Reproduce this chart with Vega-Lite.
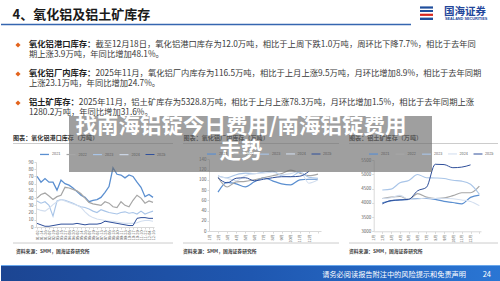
{
  "$schema": "https://vega.github.io/schema/vega-lite/v6.json",
  "width": 500,
  "height": 281,
  "autosize": {"type": "fit", "contains": "padding"},
  "padding": 0,
  "background": "white",
  "config": {
    "view": {"stroke": null},
    "font": "Noto Sans CJK SC",
    "text": {"font": "Noto Sans CJK SC"},
    "axis": {"labelFont": "Noto Sans CJK SC", "grid": false, "domainColor": "#d9d9d9", "tickColor": "#d9d9d9", "tickSize": 2, "labelColor": "#595959", "labelFontSize": 4.5, "labelPadding": 1},
    "legend": {"labelFont": "Noto Sans CJK SC"}
  },
  "resolve": {
    "scale": {"x": "independent", "y": "independent", "color": "independent", "strokeWidth": "independent"},
    "axis": {"x": "independent", "y": "independent"},
    "legend": {"color": "independent", "strokeWidth": "independent"}
  },
  "layer": [
    {
      "data": {"values": [{"t": "4、氧化铝及铝土矿库存"}]},
      "mark": {"type": "text", "align": "left", "baseline": "middle", "fontSize": 13, "fontWeight": "bold", "color": "#1a1a1a"},
      "encoding": {"text": {"field": "t"}, "x": {"value": 11.5}, "y": {"value": 15}}
    },
    {
      "data": {"values": [{}]},
      "mark": {"type": "rule", "color": "#3566b0", "strokeWidth": 1.5},
      "encoding": {"x": {"value": 0}, "x2": {"value": 410}, "y": {"value": 24.5}}
    },
    {
      "data": {"values": [{}]},
      "mark": {"type": "rule", "color": "#1f4e9c", "strokeWidth": 2.2},
      "encoding": {"x": {"value": 419}, "x2": {"value": 432}, "y": {"value": 7.5}}
    },
    {
      "data": {"values": [{}]},
      "mark": {"type": "rule", "color": "#1f4e9c", "strokeWidth": 2},
      "encoding": {"x": {"value": 419}, "x2": {"value": 432}, "y": {"value": 11}}
    },
    {
      "data": {"values": [{}]},
      "mark": {"type": "rule", "color": "#d7261e", "strokeWidth": 2.2},
      "encoding": {"x": {"value": 419}, "x2": {"value": 432}, "y": {"value": 14.8}}
    },
    {
      "data": {"values": [{}]},
      "mark": {"type": "rule", "color": "#1f4e9c", "strokeWidth": 2.4},
      "encoding": {"x": {"value": 419}, "x2": {"value": 432}, "y": {"value": 18.8}}
    },
    {
      "data": {"values": [{"t": "国海证券"}]},
      "mark": {"type": "text", "align": "left", "baseline": "middle", "fontSize": 10.5, "fontWeight": "bold", "color": "#23469a"},
      "encoding": {"text": {"field": "t"}, "x": {"value": 443}, "y": {"value": 12}}
    },
    {
      "data": {"values": [{"t": "SEALAND SECURITIES"}]},
      "mark": {"type": "text", "align": "left", "baseline": "middle", "fontSize": 3.8, "fontWeight": "bold", "color": "#23469a", "font": "Liberation Sans"},
      "encoding": {"text": {"field": "t"}, "x": {"value": 444}, "y": {"value": 19}}
    },
    {
      "data": {"values": [
        {"row": 0, "label": "氧化铝港口库存：", "t": "截至12月18日，氧化铝港口库存为12.0万吨，相比于上周下跌1.0万吨，周环比下降7.7%，相比于去年同"},
        {"row": 1, "t": "期上涨3.9万吨，年同比增加48.1%。"},
        {"row": 3, "label": "氧化铝厂内库存：", "t": "2025年11月，氧化铝厂内库存为116.5万吨，相比于上月上涨9.5万吨，月环比增加8.9%，相比于去年同期"},
        {"row": 4, "t": "上涨23.1万吨，年同比增加24.7%。"},
        {"row": 6, "label": "铝土矿库存：", "t": "2025年11月，铝土矿库存为5328.8万吨，相比于上月上涨78.3万吨，月环比增加1.5%，相比于去年同期上涨"},
        {"row": 7, "t": "1280.2万吨，年同比增加31.6%。"}
      ]},
      "transform": [{"calculate": "datum.label ? length(datum.label) : 0", "as": "indent"}],
      "encoding": {
        "y": {"field": "row", "type": "quantitative", "scale": {"domain": [0, 7], "range": [45, 112.7], "nice": false, "zero": false}, "axis": null}
      },
      "layer": [
        {
          "mark": {"type": "text", "align": "left", "baseline": "middle", "fontSize": 8.3, "color": "#3a3a3a"},
          "encoding": {"text": {"field": "t"}, "x": {"field": "indent", "type": "quantitative", "scale": {"domain": [0, 8], "range": [28, 94.4], "nice": false, "zero": false}, "axis": null}}
        },
        {
          "transform": [{"filter": "datum.label"}],
          "mark": {"type": "text", "align": "left", "baseline": "middle", "fontSize": 8.3, "fontWeight": "bold", "color": "#1f1f1f"},
          "encoding": {"text": {"field": "label"}, "x": {"value": 28}}
        },
        {
          "transform": [{"filter": "datum.label"}],
          "mark": {"type": "point", "shape": "diamond", "filled": true, "size": 26, "color": "#e3631c", "opacity": 1},
          "encoding": {"x": {"value": 17}}
        }
      ]
    },
    {
      "data": {"values": [{"t": "图表：氧化铝港口库存（万吨）"}]},
      "mark": {"type": "text", "align": "left", "baseline": "middle", "fontSize": 6.1, "fontWeight": "bold", "color": "#333333"},
      "encoding": {"text": {"field": "t"}, "x": {"value": 12}, "y": {"value": 138}}
    },
    {
      "data": {"values": [{"t": "图表：氧化铝厂内库存（万吨）"}]},
      "mark": {"type": "text", "align": "left", "baseline": "middle", "fontSize": 6.1, "fontWeight": "bold", "color": "#333333"},
      "encoding": {"text": {"field": "t"}, "x": {"value": 182.5}, "y": {"value": 138}}
    },
    {
      "data": {"values": [{"t": "图表：铝土矿库存（万吨）"}]},
      "mark": {"type": "text", "align": "left", "baseline": "middle", "fontSize": 6.1, "fontWeight": "bold", "color": "#333333"},
      "encoding": {"text": {"field": "t"}, "x": {"value": 348}, "y": {"value": 138}}
    },
    {
      "data": {"values": [{}]},
      "mark": {"type": "rule", "color": "#bfbfbf", "strokeWidth": 0.8},
      "encoding": {"x": {"value": 12}, "x2": {"value": 172}, "y": {"value": 143.5}}
    },
    {
      "data": {"values": [{}]},
      "mark": {"type": "rule", "color": "#bfbfbf", "strokeWidth": 0.8},
      "encoding": {"x": {"value": 182}, "x2": {"value": 338}, "y": {"value": 143.5}}
    },
    {
      "data": {"values": [{}]},
      "mark": {"type": "rule", "color": "#bfbfbf", "strokeWidth": 0.8},
      "encoding": {"x": {"value": 348}, "x2": {"value": 497}, "y": {"value": 143.5}}
    },
    {
      "data": {"values": [{}]},
      "mark": {"type": "rule", "color": "#bfbfbf", "strokeWidth": 0.8},
      "encoding": {"x": {"value": 12}, "x2": {"value": 172}, "y": {"value": 243}}
    },
    {
      "data": {"values": [{}]},
      "mark": {"type": "rule", "color": "#bfbfbf", "strokeWidth": 0.8},
      "encoding": {"x": {"value": 182}, "x2": {"value": 338}, "y": {"value": 243}}
    },
    {
      "data": {"values": [{}]},
      "mark": {"type": "rule", "color": "#bfbfbf", "strokeWidth": 0.8},
      "encoding": {"x": {"value": 348}, "x2": {"value": 497}, "y": {"value": 243}}
    },
    {
      "data": {"values": [{"t": "资料来源：SMM，国海证券研究所"}]},
      "mark": {"type": "text", "align": "left", "baseline": "middle", "fontSize": 4.8, "fontWeight": "bold", "color": "#404040"},
      "encoding": {"text": {"field": "t"}, "x": {"value": 15}, "y": {"value": 252}}
    },
    {
      "data": {"values": [{"t": "资料来源：SMM，国海证券研究所"}]},
      "mark": {"type": "text", "align": "left", "baseline": "middle", "fontSize": 4.8, "fontWeight": "bold", "color": "#404040"},
      "encoding": {"text": {"field": "t"}, "x": {"value": 182}, "y": {"value": 252}}
    },
    {
      "data": {"values": [{"t": "资料来源：SMM，国海证券研究所"}]},
      "mark": {"type": "text", "align": "left", "baseline": "middle", "fontSize": 4.8, "fontWeight": "bold", "color": "#404040"},
      "encoding": {"text": {"field": "t"}, "x": {"value": 348}, "y": {"value": 252}}
    },
    {
      "data": {"values": [
        {"d":"01-02","yr":"2021","v":70},{"d":"01-14","yr":"2021","v":62},{"d":"01-26","yr":"2021","v":67},{"d":"02-07","yr":"2021","v":62},{"d":"02-19","yr":"2021","v":62},{"d":"03-03","yr":"2021","v":51},{"d":"03-15","yr":"2021","v":65},{"d":"03-27","yr":"2021","v":60},{"d":"04-08","yr":"2021","v":58},{"d":"04-20","yr":"2021","v":54},{"d":"05-02","yr":"2021","v":49},{"d":"05-14","yr":"2021","v":44},{"d":"05-26","yr":"2021","v":41},{"d":"06-07","yr":"2021","v":35},{"d":"06-19","yr":"2021","v":37},{"d":"07-01","yr":"2021","v":38},{"d":"07-13","yr":"2021","v":41},{"d":"07-25","yr":"2021","v":48},{"d":"08-06","yr":"2021","v":56},{"d":"08-18","yr":"2021","v":82},{"d":"08-30","yr":"2021","v":73},{"d":"09-11","yr":"2021","v":72},{"d":"09-23","yr":"2021","v":68},{"d":"10-05","yr":"2021","v":72},{"d":"10-17","yr":"2021","v":70},{"d":"10-29","yr":"2021","v":62},{"d":"11-10","yr":"2021","v":55},{"d":"11-22","yr":"2021","v":42},{"d":"12-04","yr":"2021","v":45},{"d":"12-16","yr":"2021","v":41},
        {"d":"01-02","yr":"2022","v":40},{"d":"01-14","yr":"2022","v":45},{"d":"01-26","yr":"2022","v":47},{"d":"02-07","yr":"2022","v":43},{"d":"02-19","yr":"2022","v":38},{"d":"03-03","yr":"2022","v":42},{"d":"03-15","yr":"2022","v":44},{"d":"03-27","yr":"2022","v":55},{"d":"04-08","yr":"2022","v":54},{"d":"04-20","yr":"2022","v":52},{"d":"05-02","yr":"2022","v":50},{"d":"05-14","yr":"2022","v":46},{"d":"05-26","yr":"2022","v":40},{"d":"06-07","yr":"2022","v":34},{"d":"06-19","yr":"2022","v":32},{"d":"07-01","yr":"2022","v":31},{"d":"07-13","yr":"2022","v":30},{"d":"07-25","yr":"2022","v":35},{"d":"08-06","yr":"2022","v":33},{"d":"08-18","yr":"2022","v":28},{"d":"08-30","yr":"2022","v":27},{"d":"09-11","yr":"2022","v":35},{"d":"09-23","yr":"2022","v":30},{"d":"10-05","yr":"2022","v":28},{"d":"10-17","yr":"2022","v":37},{"d":"10-29","yr":"2022","v":44},{"d":"11-10","yr":"2022","v":40},{"d":"11-22","yr":"2022","v":33},{"d":"12-04","yr":"2022","v":36},{"d":"12-16","yr":"2022","v":34},
        {"d":"01-02","yr":"2023","v":36},{"d":"01-14","yr":"2023","v":33},{"d":"01-26","yr":"2023","v":35},{"d":"02-07","yr":"2023","v":30},{"d":"02-19","yr":"2023","v":15},{"d":"03-03","yr":"2023","v":36},{"d":"03-15","yr":"2023","v":38},{"d":"03-27","yr":"2023","v":37},{"d":"04-08","yr":"2023","v":35},{"d":"04-20","yr":"2023","v":33},{"d":"05-02","yr":"2023","v":30},{"d":"05-14","yr":"2023","v":28},{"d":"05-26","yr":"2023","v":27},{"d":"06-07","yr":"2023","v":25},{"d":"06-19","yr":"2023","v":22},{"d":"07-01","yr":"2023","v":20},{"d":"07-13","yr":"2023","v":24},{"d":"07-25","yr":"2023","v":22},{"d":"08-06","yr":"2023","v":20},{"d":"08-18","yr":"2023","v":19},{"d":"08-30","yr":"2023","v":18},{"d":"09-11","yr":"2023","v":20},{"d":"09-23","yr":"2023","v":21},{"d":"10-05","yr":"2023","v":19},{"d":"10-17","yr":"2023","v":20},{"d":"10-29","yr":"2023","v":18},{"d":"11-10","yr":"2023","v":22},{"d":"11-22","yr":"2023","v":18},{"d":"12-04","yr":"2023","v":20},{"d":"12-16","yr":"2023","v":22},
        {"d":"01-02","yr":"2024","v":25},{"d":"01-14","yr":"2024","v":23},{"d":"01-26","yr":"2024","v":22},{"d":"02-07","yr":"2024","v":26},{"d":"02-19","yr":"2024","v":31},{"d":"03-03","yr":"2024","v":35},{"d":"03-15","yr":"2024","v":38},{"d":"03-27","yr":"2024","v":36},{"d":"04-08","yr":"2024","v":34},{"d":"04-20","yr":"2024","v":32},{"d":"05-02","yr":"2024","v":30},{"d":"05-14","yr":"2024","v":27},{"d":"05-26","yr":"2024","v":21},{"d":"06-07","yr":"2024","v":16},{"d":"06-19","yr":"2024","v":13},{"d":"07-01","yr":"2024","v":11},{"d":"07-13","yr":"2024","v":10},{"d":"07-25","yr":"2024","v":9},{"d":"08-06","yr":"2024","v":8},{"d":"08-18","yr":"2024","v":8},{"d":"08-30","yr":"2024","v":7},{"d":"09-11","yr":"2024","v":6},{"d":"09-23","yr":"2024","v":5},{"d":"10-05","yr":"2024","v":5},{"d":"10-17","yr":"2024","v":5},{"d":"10-29","yr":"2024","v":6},{"d":"11-10","yr":"2024","v":8},{"d":"11-22","yr":"2024","v":9},{"d":"12-04","yr":"2024","v":9},{"d":"12-16","yr":"2024","v":8},
        {"d":"01-02","yr":"2025","v":5},{"d":"01-14","yr":"2025","v":3},{"d":"01-26","yr":"2025","v":1},{"d":"02-07","yr":"2025","v":1},{"d":"02-19","yr":"2025","v":2},{"d":"03-03","yr":"2025","v":3},{"d":"03-15","yr":"2025","v":4},{"d":"03-27","yr":"2025","v":4},{"d":"04-08","yr":"2025","v":4},{"d":"04-20","yr":"2025","v":4},{"d":"05-02","yr":"2025","v":5},{"d":"05-14","yr":"2025","v":4},{"d":"05-26","yr":"2025","v":3},{"d":"06-07","yr":"2025","v":4},{"d":"06-19","yr":"2025","v":4},{"d":"07-01","yr":"2025","v":4},{"d":"07-13","yr":"2025","v":5},{"d":"07-25","yr":"2025","v":8},{"d":"08-06","yr":"2025","v":7},{"d":"08-18","yr":"2025","v":6},{"d":"08-30","yr":"2025","v":5},{"d":"09-11","yr":"2025","v":4},{"d":"09-23","yr":"2025","v":3},{"d":"10-05","yr":"2025","v":2},{"d":"10-17","yr":"2025","v":2},{"d":"10-29","yr":"2025","v":12},{"d":"11-10","yr":"2025","v":13},{"d":"11-22","yr":"2025","v":13},{"d":"12-04","yr":"2025","v":12},{"d":"12-16","yr":"2025","v":12}
      ]},
      "mark": {"type": "line", "interpolate": "linear"},
      "encoding": {
        "x": {"field": "d", "type": "ordinal", "scale": {"type": "point", "range": [35, 153], "padding": 0.25, "domain": ["01-02","01-14","01-26","02-07","02-19","03-03","03-15","03-27","04-08","04-20","05-02","05-14","05-26","06-07","06-19","07-01","07-13","07-25","08-06","08-18","08-30","09-11","09-23","10-05","10-17","10-29","11-10","11-22","12-04","12-16"]}, "axis": {"orient": "bottom", "offset": -54, "title": null, "labelAngle": -90, "labelFontSize": 3.8, "labelOverlap": false, "labelPadding": 1}},
        "y": {"field": "v", "type": "quantitative", "scale": {"domain": [0, 90], "range": [227, 162], "nice": false}, "axis": {"orient": "left", "offset": -35, "title": null, "values": [0,10,20,30,40,50,60,70,80,90]}},
        "color": {"field": "yr", "type": "nominal", "scale": {"domain": ["2021","2022","2023","2024","2025"], "range": ["#5b8fd0","#a6a6a6","#a9c5e8","#d2deef","#2f4f9a"]}, "legend": {"orient": "none", "legendX": 38, "legendY": 148.5, "direction": "horizontal", "title": null, "symbolType": "stroke", "symbolSize": 80, "symbolStrokeWidth": 1.2, "labelFontSize": 3.8, "labelColor": "#595959", "labelOffset": 2, "columnPadding": 2.5, "padding": 0}},
        "strokeWidth": {"field": "yr", "type": "ordinal", "scale": {"domain": ["2021","2022","2023","2024","2025"], "range": [1.3,1,1,1,1.5]}, "legend": null}
      }
    },
    {
      "data": {"values": [
        {"m":"1月","yr":"2021","v":76},{"m":"2月","yr":"2021","v":95},{"m":"3月","yr":"2021","v":92},{"m":"4月","yr":"2021","v":86},{"m":"5月","yr":"2021","v":96},{"m":"6月","yr":"2021","v":104},{"m":"7月","yr":"2021","v":98},{"m":"8月","yr":"2021","v":92},{"m":"9月","yr":"2021","v":90},{"m":"10月","yr":"2021","v":100},{"m":"11月","yr":"2021","v":101},{"m":"12月","yr":"2021","v":101},
        {"m":"1月","yr":"2022","v":105},{"m":"2月","yr":"2022","v":86},{"m":"3月","yr":"2022","v":96},{"m":"4月","yr":"2022","v":97},{"m":"5月","yr":"2022","v":100},{"m":"6月","yr":"2022","v":104},{"m":"7月","yr":"2022","v":108},{"m":"8月","yr":"2022","v":112},{"m":"9月","yr":"2022","v":119},{"m":"10月","yr":"2022","v":113},{"m":"11月","yr":"2022","v":108},{"m":"12月","yr":"2022","v":111},
        {"m":"1月","yr":"2023","v":108},{"m":"2月","yr":"2023","v":104},{"m":"3月","yr":"2023","v":110},{"m":"4月","yr":"2023","v":113},{"m":"5月","yr":"2023","v":112},{"m":"6月","yr":"2023","v":115},{"m":"7月","yr":"2023","v":117},{"m":"8月","yr":"2023","v":108},{"m":"9月","yr":"2023","v":106},{"m":"10月","yr":"2023","v":115},{"m":"11月","yr":"2023","v":105},{"m":"12月","yr":"2023","v":103},
        {"m":"1月","yr":"2024","v":107},{"m":"2月","yr":"2024","v":103},{"m":"3月","yr":"2024","v":98},{"m":"4月","yr":"2024","v":108},{"m":"5月","yr":"2024","v":112},{"m":"6月","yr":"2024","v":113},{"m":"7月","yr":"2024","v":115},{"m":"8月","yr":"2024","v":110},{"m":"9月","yr":"2024","v":112},{"m":"10月","yr":"2024","v":117},{"m":"11月","yr":"2024","v":93.4},{"m":"12月","yr":"2024","v":100},
        {"m":"1月","yr":"2025","v":104},{"m":"2月","yr":"2025","v":94},{"m":"3月","yr":"2025","v":103},{"m":"4月","yr":"2025","v":104},{"m":"5月","yr":"2025","v":98},{"m":"6月","yr":"2025","v":101},{"m":"7月","yr":"2025","v":104},{"m":"8月","yr":"2025","v":106},{"m":"9月","yr":"2025","v":106},{"m":"10月","yr":"2025","v":107},{"m":"11月","yr":"2025","v":116.5}
      ]},
      "mark": {"type": "line", "interpolate": "monotone"},
      "encoding": {
        "x": {"field": "m", "type": "ordinal", "scale": {"type": "point", "range": [208, 320], "padding": 0.66, "align": 0.75, "domain": ["1月","2月","3月","4月","5月","6月","7月","8月","9月","10月","11月","12月"]}, "axis": {"orient": "bottom", "offset": -50, "title": null, "labelAngle": -90, "labelFontSize": 3.8, "labelOverlap": false, "labelPadding": 1, "labelOffset": -9}},
        "y": {"field": "v", "type": "quantitative", "scale": {"domain": [0, 140], "range": [231, 159.3], "nice": false}, "axis": {"orient": "left", "offset": -208, "title": null, "values": [0,20,40,60,80,100,120,140]}},
        "color": {"field": "yr", "type": "nominal", "scale": {"domain": ["2021","2022","2023","2024","2025"], "range": ["#5b8fd0","#a6a6a6","#a9c5e8","#d2deef","#2f4f9a"]}, "legend": {"orient": "none", "legendX": 205, "legendY": 148.5, "direction": "horizontal", "title": null, "symbolType": "stroke", "symbolSize": 80, "symbolStrokeWidth": 1.2, "labelFontSize": 3.8, "labelColor": "#595959", "labelOffset": 2, "columnPadding": 2.5, "padding": 0}},
        "strokeWidth": {"field": "yr", "type": "ordinal", "scale": {"domain": ["2021","2022","2023","2024","2025"], "range": [1.2,1,1,1,1.5]}, "legend": null}
      }
    },
    {
      "data": {"values": [
        {"m":"1月","yr":"2021","v":4000},{"m":"2月","yr":"2021","v":4070},{"m":"3月","yr":"2021","v":4100},{"m":"4月","yr":"2021","v":4120},{"m":"5月","yr":"2021","v":4150},{"m":"6月","yr":"2021","v":4150},{"m":"7月","yr":"2021","v":4120},{"m":"8月","yr":"2021","v":4050},{"m":"9月","yr":"2021","v":4010},{"m":"10月","yr":"2021","v":3960},{"m":"11月","yr":"2021","v":4190},{"m":"12月","yr":"2021","v":4270},
        {"m":"1月","yr":"2022","v":4150},{"m":"2月","yr":"2022","v":4200},{"m":"3月","yr":"2022","v":4220},{"m":"4月","yr":"2022","v":4120},{"m":"5月","yr":"2022","v":4320},{"m":"6月","yr":"2022","v":4200},{"m":"7月","yr":"2022","v":4150},{"m":"8月","yr":"2022","v":4170},{"m":"9月","yr":"2022","v":4250},{"m":"10月","yr":"2022","v":4350},{"m":"11月","yr":"2022","v":4350},{"m":"12月","yr":"2022","v":4580},
        {"m":"1月","yr":"2023","v":4450},{"m":"2月","yr":"2023","v":4480},{"m":"3月","yr":"2023","v":4700},{"m":"4月","yr":"2023","v":4780},{"m":"5月","yr":"2023","v":4990},{"m":"6月","yr":"2023","v":4880},{"m":"7月","yr":"2023","v":4870},{"m":"8月","yr":"2023","v":4850},{"m":"9月","yr":"2023","v":4790},{"m":"10月","yr":"2023","v":4760},{"m":"11月","yr":"2023","v":4650},{"m":"12月","yr":"2023","v":4300},
        {"m":"1月","yr":"2024","v":4150},{"m":"2月","yr":"2024","v":4180},{"m":"3月","yr":"2024","v":4260},{"m":"4月","yr":"2024","v":4120},{"m":"5月","yr":"2024","v":4130},{"m":"6月","yr":"2024","v":4170},{"m":"7月","yr":"2024","v":4150},{"m":"8月","yr":"2024","v":4160},{"m":"9月","yr":"2024","v":4140},{"m":"10月","yr":"2024","v":4100},{"m":"11月","yr":"2024","v":4049},{"m":"12月","yr":"2024","v":3900},
        {"m":"1月","yr":"2025","v":3960},{"m":"2月","yr":"2025","v":4080},{"m":"3月","yr":"2025","v":4100},{"m":"4月","yr":"2025","v":4120},{"m":"5月","yr":"2025","v":4420},{"m":"6月","yr":"2025","v":4540},{"m":"7月","yr":"2025","v":5350},{"m":"8月","yr":"2025","v":5340},{"m":"9月","yr":"2025","v":5230},{"m":"10月","yr":"2025","v":5250.5},{"m":"11月","yr":"2025","v":5328.8}
      ]},
      "mark": {"type": "line", "interpolate": "monotone"},
      "encoding": {
        "x": {"field": "m", "type": "ordinal", "scale": {"type": "point", "range": [372.7, 480], "padding": 0.58, "align": 0.84, "domain": ["1月","2月","3月","4月","5月","6月","7月","8月","9月","10月","11月","12月"]}, "axis": {"orient": "bottom", "offset": -49.7, "title": null, "labelAngle": -90, "labelFontSize": 3.8, "labelOverlap": false, "labelPadding": 1, "labelOffset": -8.6}},
        "y": {"field": "v", "type": "quantitative", "scale": {"domain": [3000, 5500], "range": [231.3, 160], "nice": false, "zero": false}, "axis": {"orient": "left", "offset": -372.7, "title": null, "values": [3000,3500,4000,4500,5000,5500], "format": "d"}},
        "color": {"field": "yr", "type": "nominal", "scale": {"domain": ["2021","2022","2023","2024","2025"], "range": ["#5b8fd0","#a6a6a6","#a9c5e8","#d2deef","#2f4f9a"]}, "legend": {"orient": "none", "legendX": 367, "legendY": 148.5, "direction": "horizontal", "title": null, "symbolType": "stroke", "symbolSize": 80, "symbolStrokeWidth": 1.2, "labelFontSize": 3.8, "labelColor": "#595959", "labelOffset": 2, "columnPadding": 2.5, "padding": 0}},
        "strokeWidth": {"field": "yr", "type": "ordinal", "scale": {"domain": ["2021","2022","2023","2024","2025"], "range": [1.2,1,1,1,1.6]}, "legend": null}
      }
    },
    {
      "data": {"values": [{}]},
      "mark": {"type": "rect", "fill": {"gradient": "linear", "x1": 0, "y1": 0, "x2": 1, "y2": 0, "stops": [{"offset": 0, "color": "#1c4592"}, {"offset": 0.5, "color": "#1f57b0"}, {"offset": 1, "color": "#2a76d4"}]}},
      "encoding": {"x": {"value": 0}, "x2": {"value": 500}, "y": {"value": 265}, "y2": {"value": 281}}
    },
    {
      "data": {"values": [{}]},
      "mark": {"type": "rule", "color": "#6aa8ec", "strokeWidth": 1},
      "encoding": {"x": {"value": 0}, "x2": {"value": 500}, "y": {"value": 265.5}}
    },
    {
      "data": {"values": [{"t": "请务必阅读报告附注中的风险提示和免责声明"}]},
      "mark": {"type": "text", "align": "right", "baseline": "middle", "fontSize": 7.2, "color": "white"},
      "encoding": {"text": {"field": "t"}, "x": {"value": 465}, "y": {"value": 274.5}}
    },
    {
      "data": {"values": [{"t": "24"}]},
      "mark": {"type": "text", "align": "right", "baseline": "middle", "fontSize": 7.5, "color": "white"},
      "encoding": {"text": {"field": "t"}, "x": {"value": 490}, "y": {"value": 274.5}}
    },
    {
      "data": {"values": [{}]},
      "mark": {"type": "rect", "fill": "#6b6b6b", "opacity": 0.65},
      "encoding": {"x": {"value": 68}, "x2": {"value": 431}, "y": {"value": 116}, "y2": {"value": 172}}
    },
    {
      "data": {"values": [
        {"line": 1, "t": "找南海铝锭今日费用/南海铝锭费用"},
        {"line": 2, "t": "走势"}
      ]},
      "mark": {"type": "text", "align": "center", "baseline": "middle", "fontSize": 21.5, "fontWeight": "bold", "color": "white"},
      "encoding": {
        "text": {"field": "t"},
        "x": {"value": 240},
        "y": {"field": "line", "type": "quantitative", "scale": {"domain": [1, 2], "range": [127, 152], "nice": false, "zero": false}, "axis": null}
      }
    }
  ]
}
